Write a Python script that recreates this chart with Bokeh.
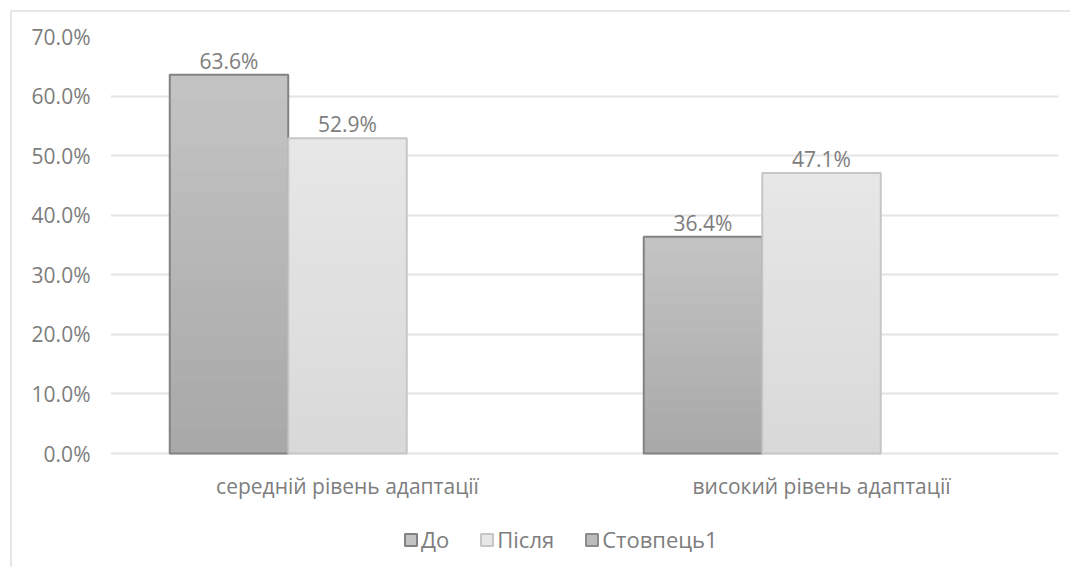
from bokeh.plotting import figure
from bokeh.models import (ColumnDataSource, FactorRange, Range1d, NumeralTickFormatter,
                          Legend, LegendItem, FixedTicker)
from bokeh.core.properties import value
from bokeh.transform import dodge
from bokeh.embed import file_html
from bokeh.resources import INLINE

# Data
categories = ["середній рівень адаптації", "високий рівень адаптації"]
before = [0.636, 0.364]                      # До
after = [0.529, 0.471]                       # Після
column1 = [float("nan"), float("nan")]       # Стовпець1 (no values)
y_ticks = [0.0, 0.1, 0.2, 0.3, 0.4, 0.5, 0.6, 0.7]

FONT = "Open Sans"
TEXT_COLOR = "#7d7d7d"
FS = "21px"
LEGEND_FS = "22px"
W = 0.25
SHADES = 16  # number of overlapping layers used for the vertical gradient fill


def lerp_gray(top_level, bottom_level, t):
    g = round(top_level + (bottom_level - top_level) * t)
    return f"#{g:02x}{g:02x}{g:02x}"


src = ColumnDataSource(dict(
    cat=categories,
    before=before,
    after=after,
    col1=column1,
    before_lbl=[f"{v * 100:.1f}%" for v in before],
    after_lbl=[f"{v * 100:.1f}%" for v in after],
))

# The frame runs to the bottom of the canvas so the legend can sit inside it;
# the range starts below zero to leave room for the category labels and legend.
p = figure(
    x_range=FactorRange(*categories, range_padding=0.0),
    y_range=Range1d(-0.1947, 0.7),
    width=1060, height=557,
    output_backend="svg", toolbar_location=None,
    min_border_left=98, min_border_right=14, min_border_top=24, min_border_bottom=0,
)
p.margin = (10, 0, 0, 10)
p.styles = {"border-top": "2px solid #e6e6e6", "border-left": "2px solid #e6e6e6"}
p.outline_line_color = None
p.background_fill_color = "white"
p.border_fill_color = "white"


def gradient_bars(values, offset, top_level, bottom_level, edge):
    """Bars with a light-top / dark-bottom fill built from stacked, shrinking layers."""
    first = None
    for k in range(SHADES):
        frac = 1 - k / SHADES
        layer = ColumnDataSource(dict(cat=categories, top=[v * frac for v in values]))
        r = p.vbar(x=dodge("cat", offset, range=p.x_range), top="top", width=W, source=layer,
                   fill_color=lerp_gray(top_level, bottom_level, k / (SHADES - 1)),
                   line_color=None)
        if first is None:
            first = r
    outline = p.vbar(x=dodge("cat", offset, range=p.x_range), top="top", width=W,
                     source=ColumnDataSource(dict(cat=categories, top=values)),
                     fill_color=None, line_color=edge, line_width=2)
    return [first, outline]


r_before = gradient_bars(before, -W, 0xC3, 0xA9, "#828282")
r_after = gradient_bars(after, 0.0, 0xE7, 0xD9, "#c6c6c6")
r_col1 = [p.vbar(x=dodge("cat", W, range=p.x_range), top="col1", width=W, source=src,
                 fill_color="#bcbcbc", line_color="#8c8c8c", line_width=2)]

# Value labels above bars
for col, lbl, off in [("before", "before_lbl", -W), ("after", "after_lbl", 0.0)]:
    p.text(x=dodge("cat", off, range=p.x_range), y=col, text=lbl, source=src,
           text_align="center", text_baseline="bottom", y_offset=0,
           text_font=value(FONT), text_font_size=FS, text_color=TEXT_COLOR)

# Axes
p.yaxis.ticker = FixedTicker(ticks=y_ticks)
p.yaxis.formatter = NumeralTickFormatter(format="0.0%")
p.xaxis.fixed_location = 0
for ax in (p.xaxis, p.yaxis):
    ax.axis_line_color = None
    ax.major_tick_line_color = None
    ax.minor_tick_line_color = None
    ax.major_label_text_font = FONT
    ax.major_label_text_font_size = FS
    ax.major_label_text_color = TEXT_COLOR
p.yaxis.major_label_standoff = 14
p.xaxis.major_label_standoff = 12

p.xgrid.grid_line_color = None
p.ygrid.ticker = FixedTicker(ticks=y_ticks)
p.ygrid.grid_line_color = "#e4e4e4"
p.ygrid.grid_line_width = 2

legend = Legend(items=[
    LegendItem(label="До", renderers=r_before),
    LegendItem(label="Після", renderers=r_after),
    LegendItem(label="Стовпець1", renderers=r_col1),
], orientation="horizontal", location=(293, 15),
    label_text_font=FONT, label_text_font_size=LEGEND_FS, label_text_color=TEXT_COLOR,
    glyph_width=15, glyph_height=15, label_standoff=3, spacing=30,
    border_line_color=None, background_fill_alpha=0, padding=0, margin=0)
p.add_layout(legend)

open("out.html", "w").write(file_html(p, INLINE))
